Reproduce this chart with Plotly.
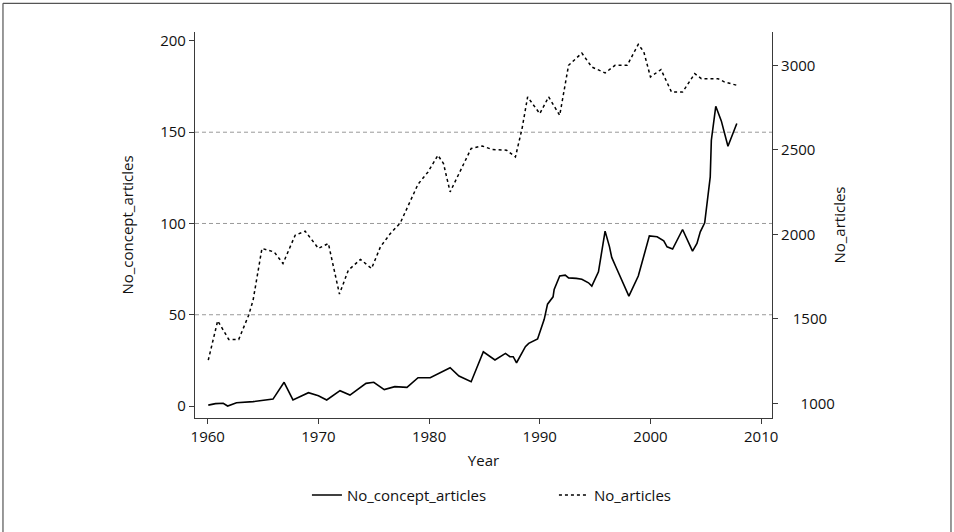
import plotly.graph_objects as go

# Articles using the concept, by publication year
concept_years = [1960.05, 1960.7, 1961.4, 1961.8, 1962.6, 1964.1, 1965.9, 1966.9, 1967.7, 1969.1,
                 1970.0, 1970.75, 1971.95, 1972.85, 1974.3, 1975.0, 1975.95, 1976.9, 1978.0, 1979.0,
                 1980.1, 1981.9, 1982.7, 1983.8, 1984.9, 1985.95, 1986.9, 1987.3, 1987.6, 1987.9,
                 1988.7, 1989.0, 1989.8, 1990.4, 1990.7, 1991.2, 1991.3, 1991.8, 1992.3, 1992.6,
                 1993.3, 1993.8, 1994.4, 1994.7, 1995.3, 1995.9, 1996.3, 1996.5, 1996.9, 1997.4,
                 1998.05, 1998.9, 1999.9, 2000.6, 2001.2, 2001.5, 2002.0, 2002.9, 2003.8, 2004.2,
                 2004.5, 2004.9, 2005.1, 2005.4, 2005.5, 2005.9, 2006.4, 2007.0, 2007.8]
concept_articles = [0.5, 1.3, 1.5, 0.0, 1.8, 2.4, 3.8, 13.0, 3.3, 7.3,
                    5.6, 3.3, 8.4, 6.0, 12.4, 13.0, 9.0, 10.6, 10.2, 15.5,
                    15.5, 21.0, 16.4, 13.3, 29.7, 25.2, 28.8, 27.0, 27.0, 23.7,
                    32.5, 34.3, 36.7, 47.5, 55.8, 59.8, 63.9, 71.2, 71.7, 70.2,
                    69.9, 69.4, 67.5, 65.7, 73.5, 95.8, 87.2, 81.4, 75.9, 69.0,
                    60.2, 71.2, 93.2, 92.7, 90.5, 87.2, 86.0, 96.7, 84.9, 89.1,
                    95.4, 100.4, 110.0, 125.5, 145.6, 164.2, 156.2, 142.3, 154.8]

# All articles, by publication year
article_years = [1960.05, 1960.9, 1961.9, 1962.8, 1963.7, 1964.1, 1964.9, 1966.0, 1966.8, 1967.9,
                 1968.8, 1970.0, 1970.9, 1971.9, 1972.7, 1973.8, 1974.8, 1975.6, 1976.5, 1977.4,
                 1979.0, 1979.9, 1980.8, 1981.3, 1981.9, 1983.2, 1983.8, 1984.8, 1985.7, 1987.0,
                 1987.8, 1988.4, 1988.9, 1990.0, 1990.8, 1991.8, 1992.6, 1993.8, 1994.7, 1995.9,
                 1996.8, 1997.9, 1998.9, 1999.4, 2000.0, 2000.95, 2001.9, 2002.9, 2004.0, 2004.6,
                 2006.1, 2006.7, 2007.8]
all_articles = [1256, 1489, 1379, 1379, 1522, 1611, 1917, 1896, 1828, 1995,
                2019, 1917, 1946, 1647, 1788, 1852, 1798, 1926, 2005, 2068,
                2297, 2369, 2468, 2419, 2251, 2429, 2508, 2523, 2502, 2498,
                2458, 2626, 2813, 2714, 2813, 2704, 3000, 3072, 2990, 2955,
                3000, 3000, 3124, 3079, 2931, 2975, 2842, 2842, 2951, 2921,
                2921, 2901, 2882]

year_ticks = [1960, 1970, 1980, 1990, 2000, 2010]
left_ticks = [0, 50, 100, 150, 200]
right_ticks = [1000, 1500, 2000, 2500, 3000]
grid_levels = [50, 100, 150]

FONT = "Open Sans"
INK = "#111111"
AXIS = "#3a3a3a"

# the lower right-hand labels sit slightly indented
indent = {1000: 5, 1500: 3}
right_labels = ["\u00a0" * indent.get(v, 0) + str(v) for v in right_ticks]

fig = go.Figure()
fig.add_trace(go.Scatter(
    x=concept_years, y=concept_articles, name="No_concept_articles",
    mode="lines", line=dict(color="black", width=1.6),
))
fig.add_trace(go.Scatter(
    x=article_years, y=all_articles, name="No_articles", yaxis="y2",
    mode="lines", line=dict(color="black", width=1.5, dash="3px,3px"),
))

axis_common = dict(
    showline=True, linecolor=AXIS, linewidth=1.2,
    ticks="outside", ticklen=5, tickcolor=AXIS, tickwidth=1,
    showgrid=False, zeroline=False,
    tickfont=dict(family=FONT, size=15, color=INK),
)
title_font = dict(family=FONT, size=15, color=INK)

shapes = []
# dashed reference lines on the left scale
for g in grid_levels:
    shapes.append(dict(type="line", xref="paper", yref="y", x0=0, x1=1, y0=g, y1=g,
                       line=dict(color="#9a9a9a", width=1, dash="4px,3px"), layer="below"))
# outer frame of the graphic
frame = dict(color="#555555", width=1.2)
shapes += [
    dict(type="line", xref="paper", yref="paper", x0=-0.3328, x1=1.3102, y0=1.0743, y1=1.0743, line=frame),
    dict(type="line", xref="paper", yref="paper", x0=-0.3328, x1=-0.3328, y0=1.0743, y1=-0.32, line=frame),
    dict(type="line", xref="paper", yref="paper", x0=1.3102, x1=1.3102, y0=1.0743, y1=-0.32, line=frame),
]

fig.update_layout(
    width=954, height=532,
    margin=dict(l=195, r=182, t=32, b=114),
    paper_bgcolor="white", plot_bgcolor="white",
    font=dict(family=FONT, size=15, color=INK),
    xaxis=dict(range=[1958.85, 2010.98], tickvals=year_ticks,
               title=dict(text="Year", font=title_font, standoff=10),
               **axis_common),
    yaxis=dict(range=[-6.57, 204.9], tickvals=left_ticks,
               title=dict(text="No_concept_articles", font=title_font, standoff=22),
               **axis_common),
    yaxis2=dict(range=[914, 3197], tickvals=right_ticks, ticktext=right_labels,
                overlaying="y", side="right",
                title=dict(text="No_articles", font=title_font, standoff=0),
                **axis_common),
    showlegend=True,
    legend=dict(orientation="h", x=0.194, xanchor="left", y=-0.2, yanchor="middle",
                entrywidth=202, entrywidthmode="pixels",
                font=dict(family=FONT, size=15, color=INK), bgcolor="rgba(0,0,0,0)"),
    shapes=shapes,
)

fig.write_html("out.html")
